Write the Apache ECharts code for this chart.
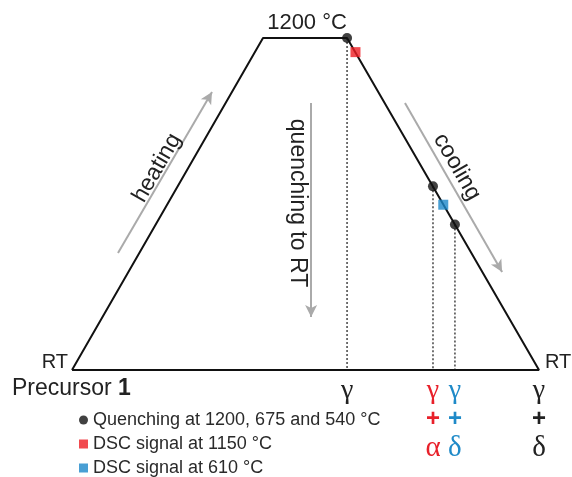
<!DOCTYPE html>
<html><head><meta charset="utf-8">
<script src="https://cdn.jsdelivr.net/npm/echarts@6/dist/echarts.min.js"></script>
<style>html,body{margin:0;padding:0;background:#fff}#c{width:572px;height:477px}</style>
</head><body><div id="c"></div>
<script>
// ---- data (time: arbitrary units, temperature: °C) ----
const profileTime = [0, 40.9, 58.9, 100, 0];
const profileTemp = [25, 1200, 1200, 25, 25];
const quenchTime = [58.9, 77.3, 82.0];
const quenchTemp = [1200, 675, 540];
const dscRedTime = [60.7];
const dscRedTemp = [1150];
const dscBlueTime = [79.5];
const dscBlueTemp = [610];
const roomTemp = 25;
const legendNames = ['Quenching at 1200, 675 and 540 °C', 'DSC signal at 1150 °C', 'DSC signal at 610 °C'];
const phaseTime = [58.9, 77.3, 82.0, 100];
const phaseTop = ['γ', 'γ', 'γ', 'γ'];
const phasePlus = ['', '+', '+', '+'];
const phaseSecond = ['', 'α', 'δ', 'δ'];
const phaseColor = ['#222', '#e8202a', '#1f8ac8', '#222'];
const arrowFrom = [[9.85, 439], [51.2, 970], [71.3, 970]];
const arrowTo = [[29.98, 1009], [51.2, 213], [92.1, 372]];

const zip = (a, b) => a.map((v, i) => [v, b[i]]);
const SANS = '"Liberation Sans", Arial, Helvetica, sans-serif';
const SERIF = '"Liberation Serif", "Times New Roman", serif';

const chart = echarts.init(document.getElementById('c'), null, {renderer: 'canvas'});
const drops = quenchTime.map((t, i) => ({
  type: 'line', silent: true, symbol: 'none', z: 1,
  data: [[t, quenchTemp[i]], [t, roomTemp]],
  lineStyle: {color: '#444', width: 1.5, type: [2, 2]}
}));
chart.setOption({
  animation: false,
  backgroundColor: '#fff',
  grid: {left: 72, right: 33, top: 38, bottom: 107},
  xAxis: {type: 'value', min: 0, max: 100, show: false},
  yAxis: {type: 'value', min: 25, max: 1200, show: false},
  legend: {
    orient: 'vertical', left: 79, top: 411, height: 120, padding: 0,
    itemGap: 6, itemWidth: 9, itemHeight: 9,
    selectedMode: false,
    textStyle: {fontSize: 18, color: '#2a2a2a', fontFamily: SANS},
    data: [
      {name: legendNames[0], icon: 'circle'},
      {name: legendNames[1], icon: 'rect'},
      {name: legendNames[2], icon: 'rect'}
    ]
  },
  series: [
    ...drops,
    {
      type: 'line', silent: true, symbol: 'none', z: 2,
      data: zip(profileTime, profileTemp),
      lineStyle: {color: '#111', width: 2},
      markLine: {
        silent: true, symbol: ['none', 'arrow'], symbolSize: [9, 12],
        lineStyle: {color: '#aaa', width: 2, type: 'solid'},
        label: {show: false},
        data: arrowFrom.map((f, i) => [{coord: f}, {coord: arrowTo[i]}])
      }
    },
    {name: legendNames[0], type: 'scatter', z: 5, symbol: 'circle', symbolSize: 10,
      itemStyle: {color: '#111'}, data: zip(quenchTime, quenchTemp)},
    {name: legendNames[1], type: 'scatter', z: 5, symbol: 'rect', symbolSize: 10,
      itemStyle: {color: '#ee1d23'}, data: zip(dscRedTime, dscRedTemp)},
    {name: legendNames[2], type: 'scatter', z: 5, symbol: 'rect', symbolSize: 10,
      itemStyle: {color: '#1c87c9'}, data: zip(dscBlueTime, dscBlueTemp)}
  ]
});

const px = (t, T) => chart.convertToPixel({gridIndex: 0}, [t, T]);
const txt = (x, y, text, size, opts = {}) => ({
  type: 'text', x, y, rotation: opts.rot || 0, z: 10,
  style: {
    text, fontSize: size, fontFamily: opts.family || SANS, fontWeight: opts.weight || 'normal',
    fill: opts.color || '#222', align: opts.align || 'center', verticalAlign: 'middle',
    textAlign: opts.align || 'center', textVerticalAlign: 'middle'
  }
});
const g = [];
const topL = px(profileTime[1], profileTemp[1]), topR = px(profileTime[2], profileTemp[2]);
g.push(txt((topL[0] + topR[0]) / 2 + 2, 23, '1200 °C', 22));
const bl = px(profileTime[0], roomTemp), br = px(profileTime[3], roomTemp);
g.push(txt(bl[0] - 4, 362, 'RT', 20, {align: 'right'}));
g.push(txt(br[0] + 6, 362, 'RT', 20, {align: 'left'}));
g.push({type: 'text', x: 12, y: 389, z: 10, style: {
  text: '{a|Precursor }{b|1}', verticalAlign: 'middle', textVerticalAlign: 'middle',
  rich: {a: {fontSize: 23, fontFamily: SANS, fill: '#222', color: '#222'},
         b: {fontSize: 23, fontFamily: SANS, fontWeight: 'bold', fill: '#222', color: '#222'}}
}});
g.push(txt(157, 168, 'heating', 23, {rot: Math.PI / 3}));
g.push(txt(297, 203, 'quenching to RT', 23, {rot: -Math.PI / 2}));
g.push(txt(457, 167, 'cooling', 23, {rot: -Math.PI / 3}));
phaseTime.forEach((t, i) => {
  const x = px(t, roomTemp)[0];
  g.push(txt(x, 391, phaseTop[i], 28, {family: SERIF, color: phaseColor[i]}));
  if (phasePlus[i]) g.push(txt(x, 419, phasePlus[i], 24, {weight: 'bold', color: phaseColor[i]}));
  if (phaseSecond[i]) g.push(txt(x, 448, phaseSecond[i], 29, {family: SERIF, color: phaseColor[i]}));
});
chart.setOption({graphic: g});
</script>
</body></html>
